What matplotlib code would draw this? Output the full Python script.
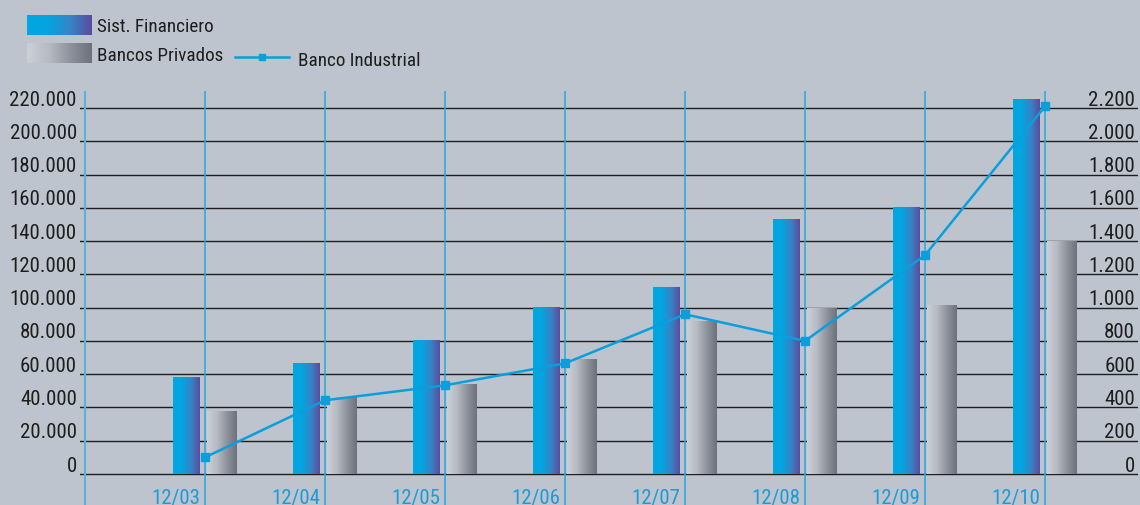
import numpy as np
import matplotlib
matplotlib.use("Agg")
import matplotlib.pyplot as plt
from matplotlib import font_manager
from matplotlib.colors import LinearSegmentedColormap
from matplotlib.lines import Line2D

# pick a narrow sans if one is around
names = {f.name for f in font_manager.fontManager.ttflist}
narrow = [n for n in ("Liberation Sans Narrow", "DejaVu Sans Condensed",
                      "Roboto Condensed", "Open Sans Condensed",
                      "Noto Sans Condensed", "Roboto") if n in names]
FONT = narrow[0] if narrow else "DejaVu Sans"
plt.rcParams['font.family'] = [FONT, 'DejaVu Sans']
FS = 15 if FONT != "Roboto" else 13.5
FS_LEG = FS - 1.2

# --- data ---
periods = ["12/03", "12/04", "12/05", "12/06", "12/07", "12/08", "12/09", "12/10"]
sist_financiero = [58000, 66500, 80500, 100000, 112000, 153000, 160000, 225000]
bancos_privados = [37500, 46000, 53500, 69000, 91500, 99500, 101000, 140000]
banco_industrial = [100, 443, 533, 665, 960, 800, 1315, 2210]

left_ticks = list(range(0, 220001, 20000))
right_ticks = list(range(0, 2201, 200))

# --- style ---
W, H = 1140, 506
BG = "#bec4ce"
CYAN = "#0a9fdc"
blue_cmap = LinearSegmentedColormap.from_list(
    "fin", ["#00a8e2", "#04a4e0", "#3684c6", "#5a4b9e"])
grey_cmap = LinearSegmentedColormap.from_list(
    "priv", ["#ccd0d7", "#b6bbc4", "#8d929c", "#6c717c"])
grad = np.linspace(0, 1, 256).reshape(1, -1)

fig = plt.figure(figsize=(W / 100, H / 100), dpi=100, facecolor=BG)

# plot area: x from 80px to 1138px, bottom edge of figure up to y=92px
ax = fig.add_axes([80 / W, 0, 1058 / W, (H - 92) / H])
ax.set_facecolor(BG)
ymin, ymax = -18634, 230220
xmin, xmax = -1.0417, 7.775

# horizontal rules
for t in left_ticks:
    ax.axhline(t, color="#1e1e1e", lw=1.0, zorder=1)

# vertical rules at the left edge and at each period
ax.axvline(-1, color="#5ab4da", lw=1.6, zorder=1)
for i in range(len(periods)):
    ax.axvline(i, color="#2aa6dc", lw=1.1, zorder=1)

# gradient bars
for i, (vf, vp) in enumerate(zip(sist_financiero, bancos_privados)):
    ax.imshow(grad, extent=[i - 0.267, i - 0.042, 0, vf], aspect="auto",
              cmap=blue_cmap, interpolation="bicubic", zorder=2)
    ax.imshow(grad, extent=[i + 0.017, i + 0.267, 0, vp], aspect="auto",
              cmap=grey_cmap, interpolation="bicubic", zorder=2)

ax.set_xlim(xmin, xmax)
ax.set_ylim(ymin, ymax)
ax.axis("off")

# line on the secondary scale
ax2 = ax.twinx()
ax2.set_ylim(ymin / 100, ymax / 100)
ax2.set_xlim(xmin, xmax)
ax2.plot(range(len(periods)), banco_industrial, color=CYAN, lw=1.8,
         marker="s", markersize=6, zorder=4)
ax2.axis("off")

# tick labels
for t in left_ticks:
    ax.text(-1.068, t + 2100, f"{t:,}".replace(",", "."), ha="right",
            va="baseline", fontsize=FS, color="#1e1e1e", clip_on=False)
for t in right_ticks:
    ax2.text(7.75, t + 21, f"{t:,}".replace(",", "."), ha="right",
             va="baseline", fontsize=FS, color="#1e1e1e", clip_on=False)
for i, p in enumerate(periods):
    ax.text(i - 0.245, -17400, p, ha="center", va="baseline", fontsize=FS,
            color="#1a9cd8", clip_on=False)

# legend
for y_top, cmap in [(16, blue_cmap), (44, grey_cmap)]:
    lax = fig.add_axes([27 / W, 1 - (y_top + 20) / H, 65 / W, 20 / H])
    lax.imshow(grad, aspect="auto", cmap=cmap, interpolation="bicubic")
    lax.axis("off")

fig.text(97 / W, 1 - 31.7 / H, "Sist. Financiero", fontsize=FS_LEG,
         color="#1e1e1e", va="baseline")
fig.text(97 / W, 1 - 60.7 / H, "Bancos Privados", fontsize=FS_LEG,
         color="#1e1e1e", va="baseline")
fig.add_artist(Line2D([235 / W, 289 / W], [1 - 58 / H, 1 - 58 / H],
                      color=CYAN, lw=1.8, transform=fig.transFigure))
fig.add_artist(Line2D([262 / W], [1 - 58 / H], color=CYAN, marker="s",
                      markersize=5, transform=fig.transFigure))
fig.text(298 / W, 1 - 65.7 / H, "Banco Industrial", fontsize=FS_LEG,
         color="#1e1e1e", va="baseline")

fig.savefig("out.png", dpi=100, facecolor=BG)
